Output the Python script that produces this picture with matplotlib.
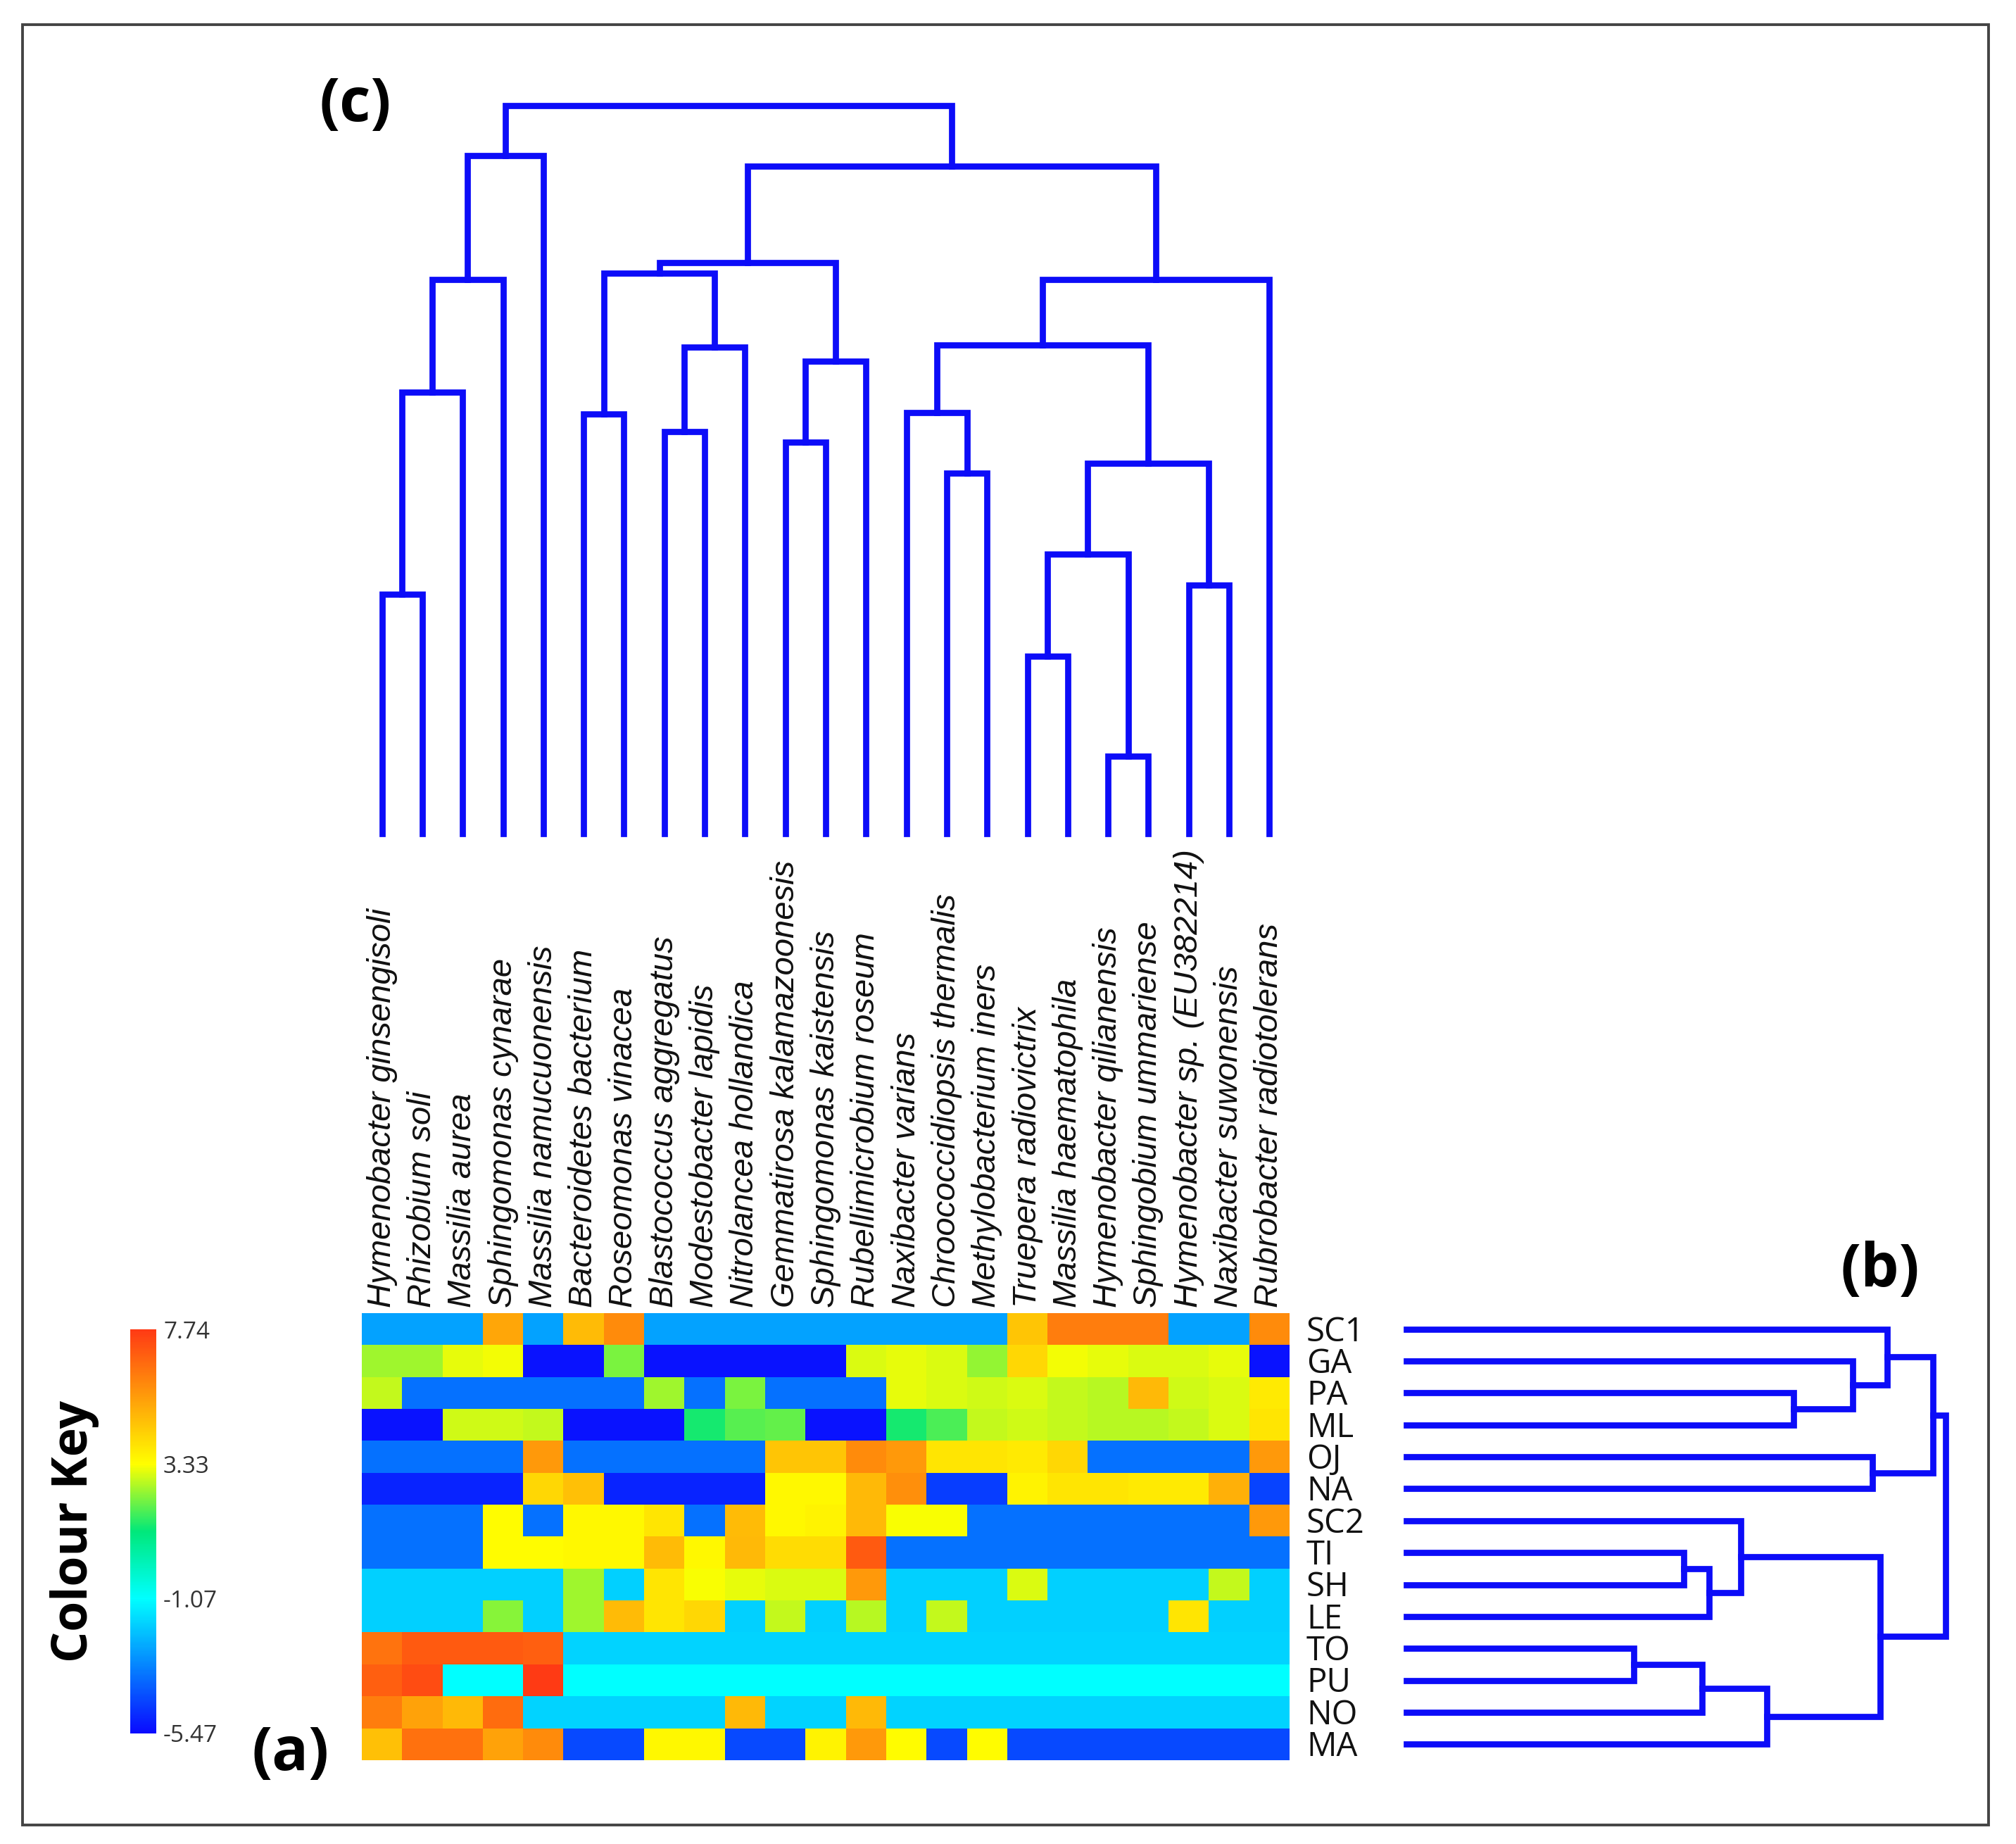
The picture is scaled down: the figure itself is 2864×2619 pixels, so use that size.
import matplotlib
matplotlib.use("Agg")
import matplotlib.pyplot as plt
import numpy as np
from matplotlib.colors import LinearSegmentedColormap
from matplotlib.patches import Rectangle
import matplotlib.cm as cm
import matplotlib.colors as mcolors

# ---------------- data ----------------
row_labels = ["SC1", "GA", "PA", "ML", "OJ", "NA", "SC2", "TI", "SH", "LE", "TO", "PU", "NO", "MA"]

col_labels = [
    "Hymenobacter ginsengisoli", "Rhizobium soli", "Massilia aurea", "Sphingomonas cynarae",
    "Massilia namucuonensis", "Bacteroidetes bacterium", "Roseomonas vinacea",
    "Blastococcus aggregatus", "Modestobacter lapidis", "Nitrolancea hollandica",
    "Gemmatirosa kalamazoonesis", "Sphingomonas kaistensis", "Rubellimicrobium roseum",
    "Naxibacter varians", "Chroococcidiopsis thermalis", "Methylobacterium iners",
    "Truepera radiovictrix", "Massilia haematophila", "Hymenobacter qilianensis",
    "Sphingobium ummariense", "Hymenobacter sp. (EU382214)", "Naxibacter suwonensis",
    "Rubrobacter radiotolerans",
]

row_SC1 = [-2.7, -2.7, -2.7, 5.3, -2.7, 4.8, 5.9, -2.7, -2.7, -2.7, -2.7, -2.7, -2.7, -2.7, -2.7, -2.7, 4.6, 6.2, 6.2, 6.2, -2.7, -2.7, 5.9]
row_GA = [2.5, 2.5, 3.1, 3.2, -5.3, -5.3, 2.2, -5.3, -5.3, -5.3, -5.3, -5.3, 3.0, 3.1, 3.0, 2.4, 4.2, 3.2, 3.1, 3.0, 3.0, 3.1, -5.3]
row_PA = [2.8, -3.6, -3.6, -3.6, -3.6, -3.6, -3.6, 2.5, -3.6, 2.2, -3.6, -3.6, -3.6, 3.1, 3.0, 2.9, 3.0, 2.8, 2.7, 4.9, 2.9, 3.0, 3.8]
row_ML = [-5.3, -5.3, 2.9, 2.9, 2.8, -5.3, -5.3, -5.3, 1.3, 1.9, 2.0, -5.3, -5.3, 1.3, 1.8, 2.8, 2.9, 2.8, 2.7, 2.7, 2.8, 3.0, 3.9]
row_OJ = [-3.6, -3.6, -3.6, -3.6, 5.6, -3.6, -3.6, -3.6, -3.6, -3.6, 4.6, 4.6, 5.9, 5.6, 3.9, 3.9, 3.8, 4.2, -3.6, -3.6, -3.6, -3.6, 5.6]
row_NA = [-5.0, -5.0, -5.0, -5.0, 4.2, 4.7, -5.0, -5.0, -5.0, -5.0, 3.5, 3.5, 4.9, 5.8, -4.5, -4.5, 3.6, 3.9, 3.9, 3.8, 3.8, 5.1, -4.4]
row_SC2 = [-3.6, -3.6, -3.6, 3.4, -3.6, 3.5, 3.5, 3.9, -3.6, 4.8, 3.5, 3.6, 4.9, 3.3, 3.3, -3.6, -3.6, -3.6, -3.6, -3.6, -3.6, -3.6, 5.6]
row_TI = [-3.6, -3.6, -3.6, 3.4, 3.4, 3.5, 3.5, 4.8, 3.5, 4.9, 4.1, 4.1, 7.0, -3.6, -3.6, -3.6, -3.6, -3.6, -3.6, -3.6, -3.6, -3.6, -3.6]
row_SH = [-1.9, -1.9, -1.9, -1.9, -1.9, 2.5, -1.9, 3.9, 3.3, 3.1, 3.0, 3.0, 5.6, -1.9, -1.9, -1.9, 3.0, -1.9, -1.9, -1.9, -1.9, 2.8, -1.9]
row_LE = [-1.9, -1.9, -1.9, 2.3, -1.9, 2.5, 4.8, 3.9, 4.2, -1.9, 2.8, -1.9, 2.7, -1.9, 2.8, -1.9, -1.9, -1.9, -1.9, -1.9, 3.9, -1.9, -1.9]
row_TO = [6.4, 7.0, 7.0, 7.0, 6.9, -1.85, -1.85, -1.85, -1.85, -1.85, -1.85, -1.85, -1.85, -1.85, -1.85, -1.85, -1.85, -1.85, -1.85, -1.85, -1.85, -1.85, -1.85]
row_PU = [6.9, 7.3, -1.07, -1.07, 7.74, -1.07, -1.07, -1.07, -1.07, -1.07, -1.07, -1.07, -1.07, -1.07, -1.07, -1.07, -1.07, -1.07, -1.07, -1.07, -1.07, -1.07, -1.07]
row_NO = [6.2, 5.4, 4.9, 6.6, -1.85, -1.85, -1.85, -1.85, -1.85, 4.9, -1.85, -1.85, 4.9, -1.85, -1.85, -1.85, -1.85, -1.85, -1.85, -1.85, -1.85, -1.85, -1.85]
row_MA = [4.7, 6.5, 6.5, 5.4, 5.9, -4.3, -4.3, 3.5, 3.5, -4.3, -4.3, 3.6, 5.6, 3.4, -4.3, 3.4, -4.3, -4.3, -4.3, -4.3, -4.3, -4.3, -4.3]

key_min, key_max = -5.47, 7.74
key_ticks = [7.74, 3.33, -1.07, -5.47]
key_tick_labels = ["7.74", "3.33", "-1.07", "-5.47"]

# column dendrogram (leaf indices 0..22), merge heights (relative)
c01 = (0, 1, 0.329)
c012 = (c01, 2, 0.606)
c0123 = (c012, 3, 0.761)
c_left = (c0123, 4, 0.931)
c56 = (5, 6, 0.576)
c78 = (7, 8, 0.552)
c789 = (c78, 9, 0.668)
c5_9 = (c56, c789, 0.770)
c10_11 = (10, 11, 0.538)
c10_12 = (c10_11, 12, 0.649)
c5_12 = (c5_9, c10_12, 0.784)
c14_15 = (14, 15, 0.495)
c13_15 = (13, c14_15, 0.578)
c16_17 = (16, 17, 0.244)
c18_19 = (18, 19, 0.106)
c16_19 = (c16_17, c18_19, 0.384)
c20_21 = (20, 21, 0.341)
c16_21 = (c16_19, c20_21, 0.509)
c13_21 = (c13_15, c16_21, 0.671)
c13_22 = (c13_21, 22, 0.761)
c_right = (c5_12, c13_22, 0.917)
col_tree = (c_left, c_right, 1.0)

# row dendrogram (leaf indices 0..13)
r23 = (2, 3, 0.718)
r123 = (1, r23, 0.828)
r0123 = (0, r123, 0.892)
r45 = (4, 5, 0.864)
r_up = (r0123, r45, 0.976)
r78 = (7, 8, 0.514)
r789 = (r78, 9, 0.562)
r6_9 = (6, r789, 0.620)
r10_11 = (10, 11, 0.422)
r10_12 = (r10_11, 12, 0.548)
r10_13 = (r10_12, 13, 0.668)
r_low = (r6_9, r10_13, 0.878)
row_tree = (r_up, r_low, 1.0)

# ---------------- figure ----------------
W, H = 2864, 2619
DPI = 100
fig = plt.figure(figsize=(W / DPI, H / DPI), dpi=DPI)
fig.patch.set_facecolor("white")


def box(x0, y0, x1, y1):
    return [x0 / W, 1 - y1 / H, (x1 - x0) / W, (y1 - y0) / H]


cmap = LinearSegmentedColormap.from_list(
    "key",
    [(0.0, "#0a0aff"), (1 / 3, "#00ffff"), (0.5, "#00e87a"), (2 / 3, "#ffff00"), (1.0, "#ff3a14")],
)

data = np.array([row_SC1, row_GA, row_PA, row_ML, row_OJ, row_NA, row_SC2,
                 row_TI, row_SH, row_LE, row_TO, row_PU, row_NO, row_MA])
nr, nc = data.shape

HX0, HY0, HX1, HY1 = 514, 1865, 1832, 2500
ax = fig.add_axes(box(HX0, HY0, HX1, HY1))
ax.imshow(data, cmap=cmap, vmin=key_min, vmax=key_max, aspect="auto",
          interpolation="nearest", extent=(0, nc, nr, 0))
ax.set_xlim(0, nc)
ax.set_ylim(nr, 0)
ax.axis("off")

pt = 72.0 / DPI  # points per pixel

for j, lab in enumerate(col_labels):
    ax.annotate(lab, xy=(j + 0.5, 0), xycoords="data", xytext=(0, 8 * pt),
                textcoords="offset points", rotation=90, ha="center", va="bottom",
                fontsize=34, fontstyle="italic", family=["Liberation Sans", "DejaVu Sans"],
                color="#111111", annotation_clip=False)

row_fs = 34
cap_px = row_fs / pt * 0.714
for i, lab in enumerate(row_labels):
    ax.annotate(lab, xy=(nc, i + 0.5), xycoords="data",
                xytext=(24 * pt, -cap_px / 2 * pt), textcoords="offset points",
                ha="left", va="baseline", fontsize=row_fs,
                family=["Open Sans", "DejaVu Sans"], color="#111111",
                annotation_clip=False)

LINE_C = "#0c0cf8"
LW = 6.3


def draw_tree(a, node, orient):
    if isinstance(node, int):
        return node + 0.5, 0.0
    left, right, h = node
    p1, h1 = draw_tree(a, left, orient)
    p2, h2 = draw_tree(a, right, orient)
    if orient == "top":
        xs, ys = [p1, p1, p2, p2], [h1, h, h, h2]
    else:
        xs, ys = [h1, h, h, h2], [p1, p1, p2, p2]
    a.plot(xs, ys, color=LINE_C, lw=LW, solid_capstyle="projecting",
           solid_joinstyle="miter", clip_on=False)
    return (p1 + p2) / 2.0, h


# column dendrogram
axc = fig.add_axes(box(HX0, 150, HX1, 1184))
draw_tree(axc, col_tree, "top")
axc.set_xlim(0, nc)
axc.set_ylim(0, 1)
axc.axis("off")

# row dendrogram
axr = fig.add_axes(box(1998, HY0, 2764, HY1))
draw_tree(axr, row_tree, "right")
axr.set_xlim(0, 1)
axr.set_ylim(nr, 0)
axr.axis("off")

# colour key
axk = fig.add_axes(box(185, 1888, 222, 2462))
sm = cm.ScalarMappable(norm=mcolors.Normalize(key_min, key_max), cmap=cmap)
cb = fig.colorbar(sm, cax=axk, orientation="vertical")
cb.outline.set_visible(False)
cb.set_ticks(key_ticks)
cb.set_ticklabels(key_tick_labels)
axk.tick_params(length=0, pad=10 * pt, labelsize=24, labelcolor="#333333")
for t in axk.get_yticklabels():
    t.set_family(["Open Sans", "DejaVu Sans"])

fig.text(106 / W, 1 - 2175 / H, "Colour Key", rotation=90, ha="center", va="center",
         fontsize=50, fontweight="bold", family=["Open Sans", "DejaVu Sans"], color="black")

for txt, (x, y) in {"(c)": (505, 150), "(b)": (2671, 1805), "(a)": (413, 2492)}.items():
    fig.text(x / W, 1 - y / H, txt, ha="center", va="center", fontsize=62,
             fontweight="bold", family=["Open Sans", "DejaVu Sans"], color="black")

# outer frame
fig.patches.append(Rectangle((32 / W, 1 - 2592 / H), (2825 - 32) / W, (2592 - 35) / H,
                             transform=fig.transFigure, fill=False, edgecolor="#444444",
                             linewidth=2.8))

fig.savefig("out.png", dpi=DPI, facecolor="white")
